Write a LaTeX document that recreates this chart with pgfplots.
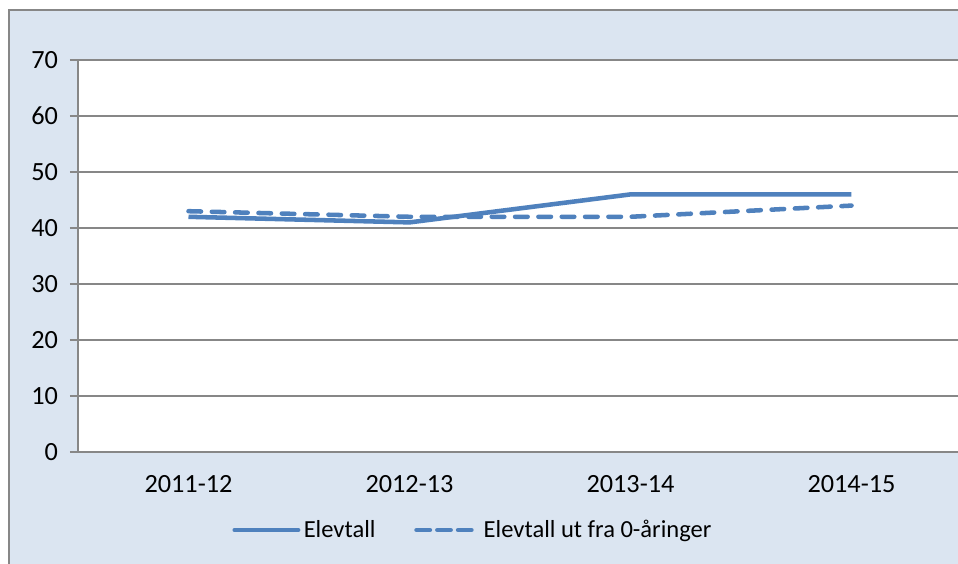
\documentclass[border=0pt]{standalone}
\usepackage{pgfplots}
\pgfplotsset{compat=1.18}
\usepackage{fontspec}
\setmainfont{Carlito}
\definecolor{bgblue}{HTML}{DBE5F1}
\definecolor{bordergray}{HTML}{878787}
\definecolor{lineblue}{HTML}{4F81BD}
\pgfplotsset{
  solidleg/.style={legend image code/.code={%
    \draw[##1, line cap=round, solid] (0pt,0pt) -- (47.6pt,0pt);}},
  dashleg/.style={legend image code/.code={%
    \draw[lineblue, line width=3.4pt, line cap=round, dash pattern=on 10pt off 5.6pt] (0pt,0pt) -- (41.2pt,0pt);}},
}
\begin{document}
\begin{tikzpicture}
\useasboundingbox (0,0) rectangle (718.5pt,423pt);
\clip (0,0) rectangle (718.5pt,423pt);
\draw[bordergray, line width=1.5pt, fill=bgblue] (6.75pt,-15pt) rectangle (735pt,415.5pt);
\begin{axis}[
  at={(58.5pt,84pt)}, anchor=south west,
  scale only axis, width=663pt, height=294pt,
  xmin=-0.5, xmax=3.5, ymin=0, ymax=70,
  axis background/.style={fill=white},
  axis x line*=bottom, axis y line*=left,
  axis line style={bordergray, line width=1.1pt},
  ytick={0,10,...,70},
  ymajorgrids, grid style={bordergray, line width=1.1pt},
  xtick={0,1,2,3},
  xticklabels={2011-12,2012-13,2013-14,2014-15},
  x tick style={draw=none},
  extra x ticks={-0.5,0.5,1.5,2.5,3.5},
  extra x tick labels={},
  extra x tick style={major tick length=5pt, tick align=outside, tick style={draw=bordergray, line width=1.1pt}, grid=none},
  y tick style={bordergray, line width=1.1pt},
  tick align=outside, major tick length=6pt,
  ticklabel style={font=\fontsize{19.7}{23}\selectfont},
  /pgf/number format/assume math mode=true,
  yticklabel style={xshift=-5.5pt},
  xticklabel style={yshift=-8pt},
  legend columns=2,
  legend style={at={(rel axis cs:0.1744,-0.199)}, anchor=west, draw=none, fill=none,
    inner sep=0pt, nodes={inner sep=0pt},
    font=\fontsize{18.4}{22}\selectfont,
    /tikz/column 1/.style={column sep=2.5pt},
    /tikz/column 2/.style={column sep=29pt},
    /tikz/column 3/.style={column sep=7.5pt}},
  clip=false,
]
\addplot[lineblue, line width=3.4pt, line join=round, solidleg]
  coordinates {(0,42) (1,41) (2,46) (3,46)};
\addlegendentry{Elevtall}
\addplot[lineblue, line width=3.4pt, line cap=round, dash pattern=on 9.4pt off 8.1pt, line join=round, dashleg]
  coordinates {(0,43) (1,42) (2,42) (3,44)};
\addlegendentry{Elevtall ut fra 0-åringer}
\end{axis}
\end{tikzpicture}
\end{document}
